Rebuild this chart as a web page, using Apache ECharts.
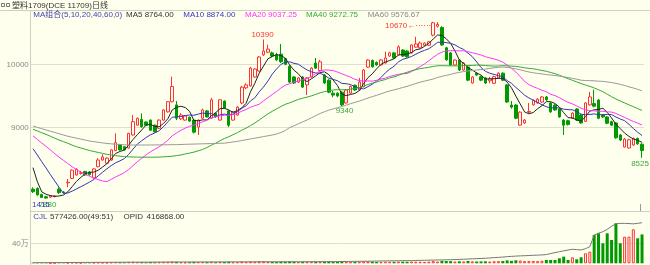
<!DOCTYPE html>
<html><head><meta charset="utf-8">
<script src="https://cdn.jsdelivr.net/npm/echarts@6/dist/echarts.min.js"></script>
<style>html,body{margin:0;padding:0;background:#FFFFEE}#c{width:650px;height:265px}</style>
</head><body><div id="c"></div>
<script>
// ---- data ----
const opens = [8030,8040,7945,7910,7905,7915,8030,7985,8130,8200,8255,8280,8310,8300,8210,8385,8490,8440,8490,8640,
8730,8700,8680,8885,9040,9130,9090,9120,9040,8990,9120,9250,9410,9360,9140,9120,9165,9120,9010,9150,
9265,9150,9230,9120,9420,9265,9120,9200,9390,9630,9660,9800,9895,10150,10190,10180,10150,10160,10090,9970,
9800,9720,9800,9675,9800,10020,9900,9830,9750,9545,9545,9560,9390,9545,9670,9595,9645,9955,10060,10030,
9990,10020,10130,10180,10150,10225,10210,10180,10270,10260,10300,10300,10460,10600,10580,10260,10180,9990,10068,9910,
9957,9705,9860,9805,9785,9740,9700,9785,9860,9674,9358,9358,9040,9075,9245,9360,9390,9405,9485,9390,
9358,9295,9120,9110,9150,9295,9200,9100,9360,9380,9437,9200,9170,9095,9075,8885,8695,8680,8727,8830,8740];
const closes = [7990,7940,7900,7890,7925,7925,7975,7975,8140,8330,8345,8290,8255,8260,8350,8490,8540,8520,8650,8765,
8650,8650,8910,9095,9150,9015,9040,8960,8935,9120,9280,9410,9650,9150,9200,9185,9105,8930,9120,9280,
9170,9440,9170,9440,9310,9040,9250,9325,9640,9675,9940,9925,10115,10210,10240,10130,10070,10040,10000,9720,
9705,9785,9640,9785,9940,9940,10040,9705,9560,9515,9500,9360,9595,9650,9595,9720,9910,10068,9960,9990,
10068,10100,10180,10100,10275,10130,10120,10305,10320,10335,10335,10355,10655,10630,10305,10070,9990,10068,9910,10020,
9750,9800,9830,9750,9705,9770,9805,9860,9750,9405,9325,9150,9245,9120,9255,9430,9450,9485,9440,9250,
9280,9170,9040,9050,9230,9120,9075,9390,9485,9340,9150,9170,9070,9040,8840,8805,8820,8810,8830,8745,8640];
const lows = [7970,7930,7890,7880,7895,7900,7955,7960,8060,8190,8245,8260,8240,8245,8200,8375,8480,8430,8480,8630,
8640,8640,8670,8875,9030,9000,9030,8950,8920,8980,9110,9240,9400,9120,9120,9110,9090,8910,8885,9140,
9160,9140,9160,9110,9300,9010,9110,9190,9370,9610,9650,9790,9885,10130,10175,10110,10050,10020,9985,9705,
9690,9705,9625,9515,9790,9925,9890,9690,9545,9480,9480,9340,9380,9535,9580,9585,9635,9945,9945,9975,
9980,10010,10120,10085,10140,10115,10105,10170,10260,10250,10290,10290,10440,10580,10290,10055,9975,9980,9895,9900,
9735,9695,9815,9735,9690,9700,9690,9775,9735,9390,9300,9135,9030,9060,9230,9350,9380,9395,9425,9235,
9265,9155,8885,9035,9140,9105,9060,9090,9350,9320,9135,9155,9055,9025,8825,8790,8685,8670,8715,8730,8525];
const highs = [8060,8060,7960,7925,7935,7935,8060,8000,8190,8340,8360,8320,8320,8315,8360,8520,8580,8535,8660,8910,
8745,8710,8920,9200,9160,9225,9100,9130,9050,9130,9290,9420,9805,9420,9230,9200,9175,9130,9130,9300,
9280,9470,9240,9450,9430,9280,9260,9340,9660,9700,9960,9940,10130,10390,10310,10200,10180,10320,10100,9985,
9815,9800,9815,9800,9955,10100,10070,9845,9765,9580,9560,9575,9610,9665,9680,9785,9925,10080,10075,10045,
10080,10200,10195,10190,10300,10240,10220,10315,10435,10360,10345,10370,10670,10665,10600,10275,10195,10080,10080,10035,
9970,9815,9875,9820,9800,9800,9820,9875,9875,9690,9420,9370,9260,9135,9390,9445,9465,9500,9500,9405,
9370,9310,9135,9125,9245,9310,9215,9405,9565,9600,9450,9215,9185,9110,9090,8900,8835,8825,8845,8845,8755];
const volumes = [12000,14000,11000,9000,8000,9000,15000,11000,13000,18000,16000,12000,14000,12000,17000,20000,18000,16000,22000,26000,
20000,18000,28000,30000,26000,24000,20000,25000,22000,26000,28000,30000,36000,30000,24000,20000,22000,28000,26000,28000,
24000,32000,22000,30000,26000,30000,24000,26000,34000,28000,36000,30000,38000,40000,34000,30000,28000,34000,30000,38000,
30000,26000,32000,34000,32000,30000,34000,32000,36000,28000,26000,38000,36000,30000,26000,32000,40000,38000,32000,28000,
30000,34000,32000,30000,36000,34000,32000,36000,34000,32000,30000,34000,48000,36000,50000,46000,44000,36000,40000,38000,
46000,40000,36000,38000,40000,36000,42000,44000,46000,58000,48000,60000,56000,44000,46000,48000,44000,52000,
66000,66000,66000,100000,133000,66000,120000,80000,120000,200000,233000,566000,600000,400000,600000,466000,800000,400000,533000,533000,680000,500000,577426];
const opid = [6000,6200,6500,6700,7000,7200,7500,7800,8000,8300,
8600,8800,9000,9300,9500,9800,10000,10200,10400,10600,
10800,11000,11200,11400,11600,11800,12000,12200,12400,12600,
12800,13000,13200,13300,13400,13500,13600,13700,13800,13900,
14000,14100,14200,14300,14400,14500,14600,14700,14800,14900,
15000,15100,15200,15300,15400,15500,15600,15700,15800,15900,
16000,16100,16200,16300,16400,16500,16600,16700,17000,17500,
18000,18500,19000,19500,20000,20500,21000,21500,22000,23000,
24000,25000,25500,26000,26500,27000,27500,28000,29000,30000,
31000,32000,33000,34000,35000,36000,37000,38500,40000,42000,
44000,46000,48000,50000,52000,55000,58000,61000,64000,68000,
71000,74000,76000,78000,80000,82000,84000,86000,90000,100000,
110000,119000,128000,136000,144000,140000,137000,150000,170000,290000,
310000,324000,349000,380000,405000,410000,410000,408000,405000,410000,416868];
const ma5Head = [8370,8150,7990,7950];
const ma10Head = [8670,8570,8465,8365,8260,8160,8060,7965,7970];
const ma20Head = [8870,8815,8760,8705,8650,8590,8535,8485,8435,8385,8340,8300,8265,8235,8205,8180,8160,8150,8185];
const ma40Head = [8975,8950,8920,8895,8865,8835,8805,8780,8755,8725,8700,8680,8660,8640,8625,8610,8595,8580,8570,8560,
8550,8545,8540,8538,8536,8535,8535,8535,8535,8537,8540,8545,8550,8560,8570,8585,8600,8615,8635];
const ma60Head = [9025,9005,8985,8965,8945,8925,8905,8885,8865,8850,8835,8820,8805,8790,8780,8770,8760,8752,8745,8740,
8735,8730,8727,8727,8727,8727,8727,8727,8728,8729,8730,8731,8732,8733,8735,8738,8740,8742,8744,8746,
8748,8750,8752,8754,8756,8765,8775,8785,8797,8810,8822,8835,8847,8860,8872,8885,8900,8925,8955];
const yTickLabels = [9000, 10000];
const titleText = '塑料1709(DCE 11709)日线';
const maGroupText = 'MA组合(5,10,20,40,60,0)';
const maNames = ['MA5','MA10','MA20','MA40','MA60'];
const maLegendValues = ['8764.00','8874.00','9037.25','9272.75','9576.67'];
const volInfo = ['CJL','577426.00(49:51)','OPID','416868.00'];
const volTickLabel = '40万';
const extraLabel = '1415';
const categories = closes.map((_, i) => String(i + 1));

// ---- build ----
const FONT = '"Liberation Sans","Noto Sans CJK SC",sans-serif';
const BG = '#FFFFEE';
const UP = '#FF3333', DOWN = '#009A00';
function ma(n, head) {
  return closes.map((_, i) => {
    if (i < n - 1) return head[i];
    let s = 0; for (let k = i - n + 1; k <= i; k++) s += closes[k];
    return +(s / n).toFixed(2);
  });
}
const maColors = ['#222222','#3535B5','#FF33FF','#33AA33','#999999'];
const maData = [ma(5, ma5Head), ma(10, ma10Head), ma(20, ma20Head), ma(40, ma40Head), ma(60, ma60Head)];
const ohlc = closes.map((c, i) => [opens[i], c, lows[i], highs[i]]);
const volItems = volumes.map((v, i) => {
  const up = closes[i] >= opens[i];
  return { value: v, itemStyle: up ? { color: BG, borderColor: UP, borderWidth: 1 } : { color: DOWN, borderWidth: 0 } };
});
const maxIdx = 53, topIdx = 92, lowIdx = 71, endIdx = 140, minIdx = 3;
const lbl = (color, offset, extra) => Object.assign({ show: true, position: 'inside', color, fontSize: 8, fontFamily: FONT, offset }, extra || {});

const chart = echarts.init(document.getElementById('c'), null, { renderer: 'canvas' });
const mainAxisCommon = { axisLine: { show: false }, axisTick: { show: false }, axisLabel: { show: false }, splitLine: { show: false } };
const option = {
  animation: false,
  backgroundColor: BG,
  grid: [
    { left: 30.8, right: 5.8, top: 0.9, height: 253.6 },
    { left: 30.8, right: 5.8, top: 211, height: 52.3 }
  ],
  xAxis: [
    Object.assign({ type: 'category', data: categories, gridIndex: 0, boundaryGap: true }, mainAxisCommon),
    Object.assign({ type: 'category', data: categories, gridIndex: 1, boundaryGap: true }, mainAxisCommon)
  ],
  yAxis: [
    { type: 'value', gridIndex: 0, min: 7000, max: 11000, interval: 1000,
      axisLine: { show: false }, axisTick: { show: false },
      axisLabel: { color: '#8a8a8a', fontSize: 8, fontFamily: FONT, margin: 2,
        formatter: v => yTickLabels.indexOf(v) >= 0 ? String(v) : '' },
      splitLine: { lineStyle: { width: 1, color: ['rgba(0,0,0,0)','rgba(0,0,0,0)','#DEDED2','#DEDED2','rgba(0,0,0,0)'] } } },
    { type: 'value', gridIndex: 1, min: 0, max: 1046000, interval: 400000,
      axisLine: { show: false }, axisTick: { show: false },
      axisLabel: { color: '#8a8a8a', fontSize: 8, fontFamily: FONT, margin: 2,
        formatter: v => v === 400000 ? volTickLabel : '' },
      splitLine: { lineStyle: { width: 1, color: ['rgba(0,0,0,0)','#DEDED2','rgba(0,0,0,0)','rgba(0,0,0,0)'] } } },
    { type: 'value', gridIndex: 1, min: 0, max: 537000, show: false, splitLine: { show: false } }
  ],
  series: [
    { type: 'candlestick', xAxisIndex: 0, yAxisIndex: 0, data: ohlc, barWidth: 3, clip: false,
      itemStyle: { color: BG, color0: DOWN, borderColor: UP, borderColor0: DOWN, borderWidth: 1 },
      markPoint: { symbol: 'circle', symbolSize: 1, itemStyle: { color: 'rgba(0,0,0,0)' }, silent: true,
        data: [
          { coord: [maxIdx, highs[maxIdx]], value: highs[maxIdx], label: lbl('#FF3333', [-1, -5], { formatter: String(highs[maxIdx]) }) },
          { coord: [topIdx, highs[topIdx]], value: highs[topIdx], label: lbl('#FF3333', [-2, 3.5], { align: 'right', formatter: highs[topIdx] + '←······' }) },
          { coord: [lowIdx, lows[lowIdx]], value: lows[lowIdx], label: lbl('#3FA53F', [2.7, 5], { formatter: String(lows[lowIdx]) }) },
          { coord: [endIdx, lows[endIdx]], value: lows[endIdx], label: lbl('#3FA53F', [-2, 5.5], { formatter: String(lows[endIdx]) }) },
          { coord: [minIdx, lows[minIdx]], value: lows[minIdx], label: lbl('#3FA53F', [1.5, 6.3], { formatter: String(lows[minIdx]) }) }
        ] } },
    ...maData.map((d, k) => ({ type: 'line', xAxisIndex: 0, yAxisIndex: 0, data: d, symbol: 'none', showSymbol: false,
      lineStyle: { width: 1, color: maColors[k] }, z: 3, silent: true })),
    { type: 'bar', xAxisIndex: 1, yAxisIndex: 1, data: volItems, barWidth: 3 },
    { type: 'line', xAxisIndex: 1, yAxisIndex: 2, data: opid, symbol: 'none', lineStyle: { width: 1, color: '#777777' }, z: 3 }
  ],
  graphic: [
    { type: 'rect', shape: { x: 1.5, y: 3.5, width: 3, height: 3 }, style: { fill: 'none', stroke: '#777', lineWidth: 1 } },
    { type: 'rect', shape: { x: 6.5, y: 3.5, width: 3, height: 3 }, style: { fill: 'none', stroke: '#777', lineWidth: 1 } },
    { type: 'text', style: { x: 12, y: 5.5, text: titleText, fill: '#333', fontSize: 8, fontFamily: FONT, verticalAlign: 'middle' } },
    { type: 'line', shape: { x1: 0, y1: 10.5, x2: 650, y2: 10.5 }, style: { stroke: '#CFCFC4', lineWidth: 1 } },
    { type: 'line', shape: { x1: 30.5, y1: 10.5, x2: 30.5, y2: 265 }, style: { stroke: '#CFCFC4', lineWidth: 1 } },
    { type: 'line', shape: { x1: 30.5, y1: 211.5, x2: 650, y2: 211.5 }, style: { stroke: '#CFCFC4', lineWidth: 1 } },
    { type: 'line', shape: { x1: 640.5, y1: 204, x2: 640.5, y2: 211 }, style: { stroke: '#999', lineWidth: 1 } },
    { type: 'text', style: { x: 33.3, y: 15, text: maGroupText, fill: '#4444B0', fontSize: 8, fontFamily: FONT, verticalAlign: 'middle' } },
    ...maNames.map((n, k) => ({ type: 'text', style: { x: [126, 183.3, 245, 306, 367.7][k], y: 15,
      text: n + ' ' + maLegendValues[k], fill: ['#333333','#3535C5','#FF33FF','#33AA33','#888888'][k],
      fontSize: 8, fontFamily: FONT, verticalAlign: 'middle' } })),
    { type: 'text', z: 100, style: { x: 32, y: 205, text: extraLabel, fill: '#3535C5', fontSize: 8, fontFamily: FONT, verticalAlign: 'middle' } },
    { type: 'text', style: { x: 33.3, y: 216.7, text: volInfo[0], fill: '#4444B0', fontSize: 8, fontFamily: FONT, verticalAlign: 'middle' } },
    { type: 'text', style: { x: 50, y: 216.7, text: volInfo[1], fill: '#333', fontSize: 8, fontFamily: FONT, verticalAlign: 'middle' } },
    { type: 'text', style: { x: 123.5, y: 216.7, text: volInfo[2], fill: '#333', fontSize: 8, fontFamily: FONT, verticalAlign: 'middle' } },
    { type: 'text', style: { x: 146.5, y: 216.7, text: volInfo[3], fill: '#333', fontSize: 8, fontFamily: FONT, verticalAlign: 'middle' } }
  ]
};
chart.setOption(option);
</script>
</body></html>
